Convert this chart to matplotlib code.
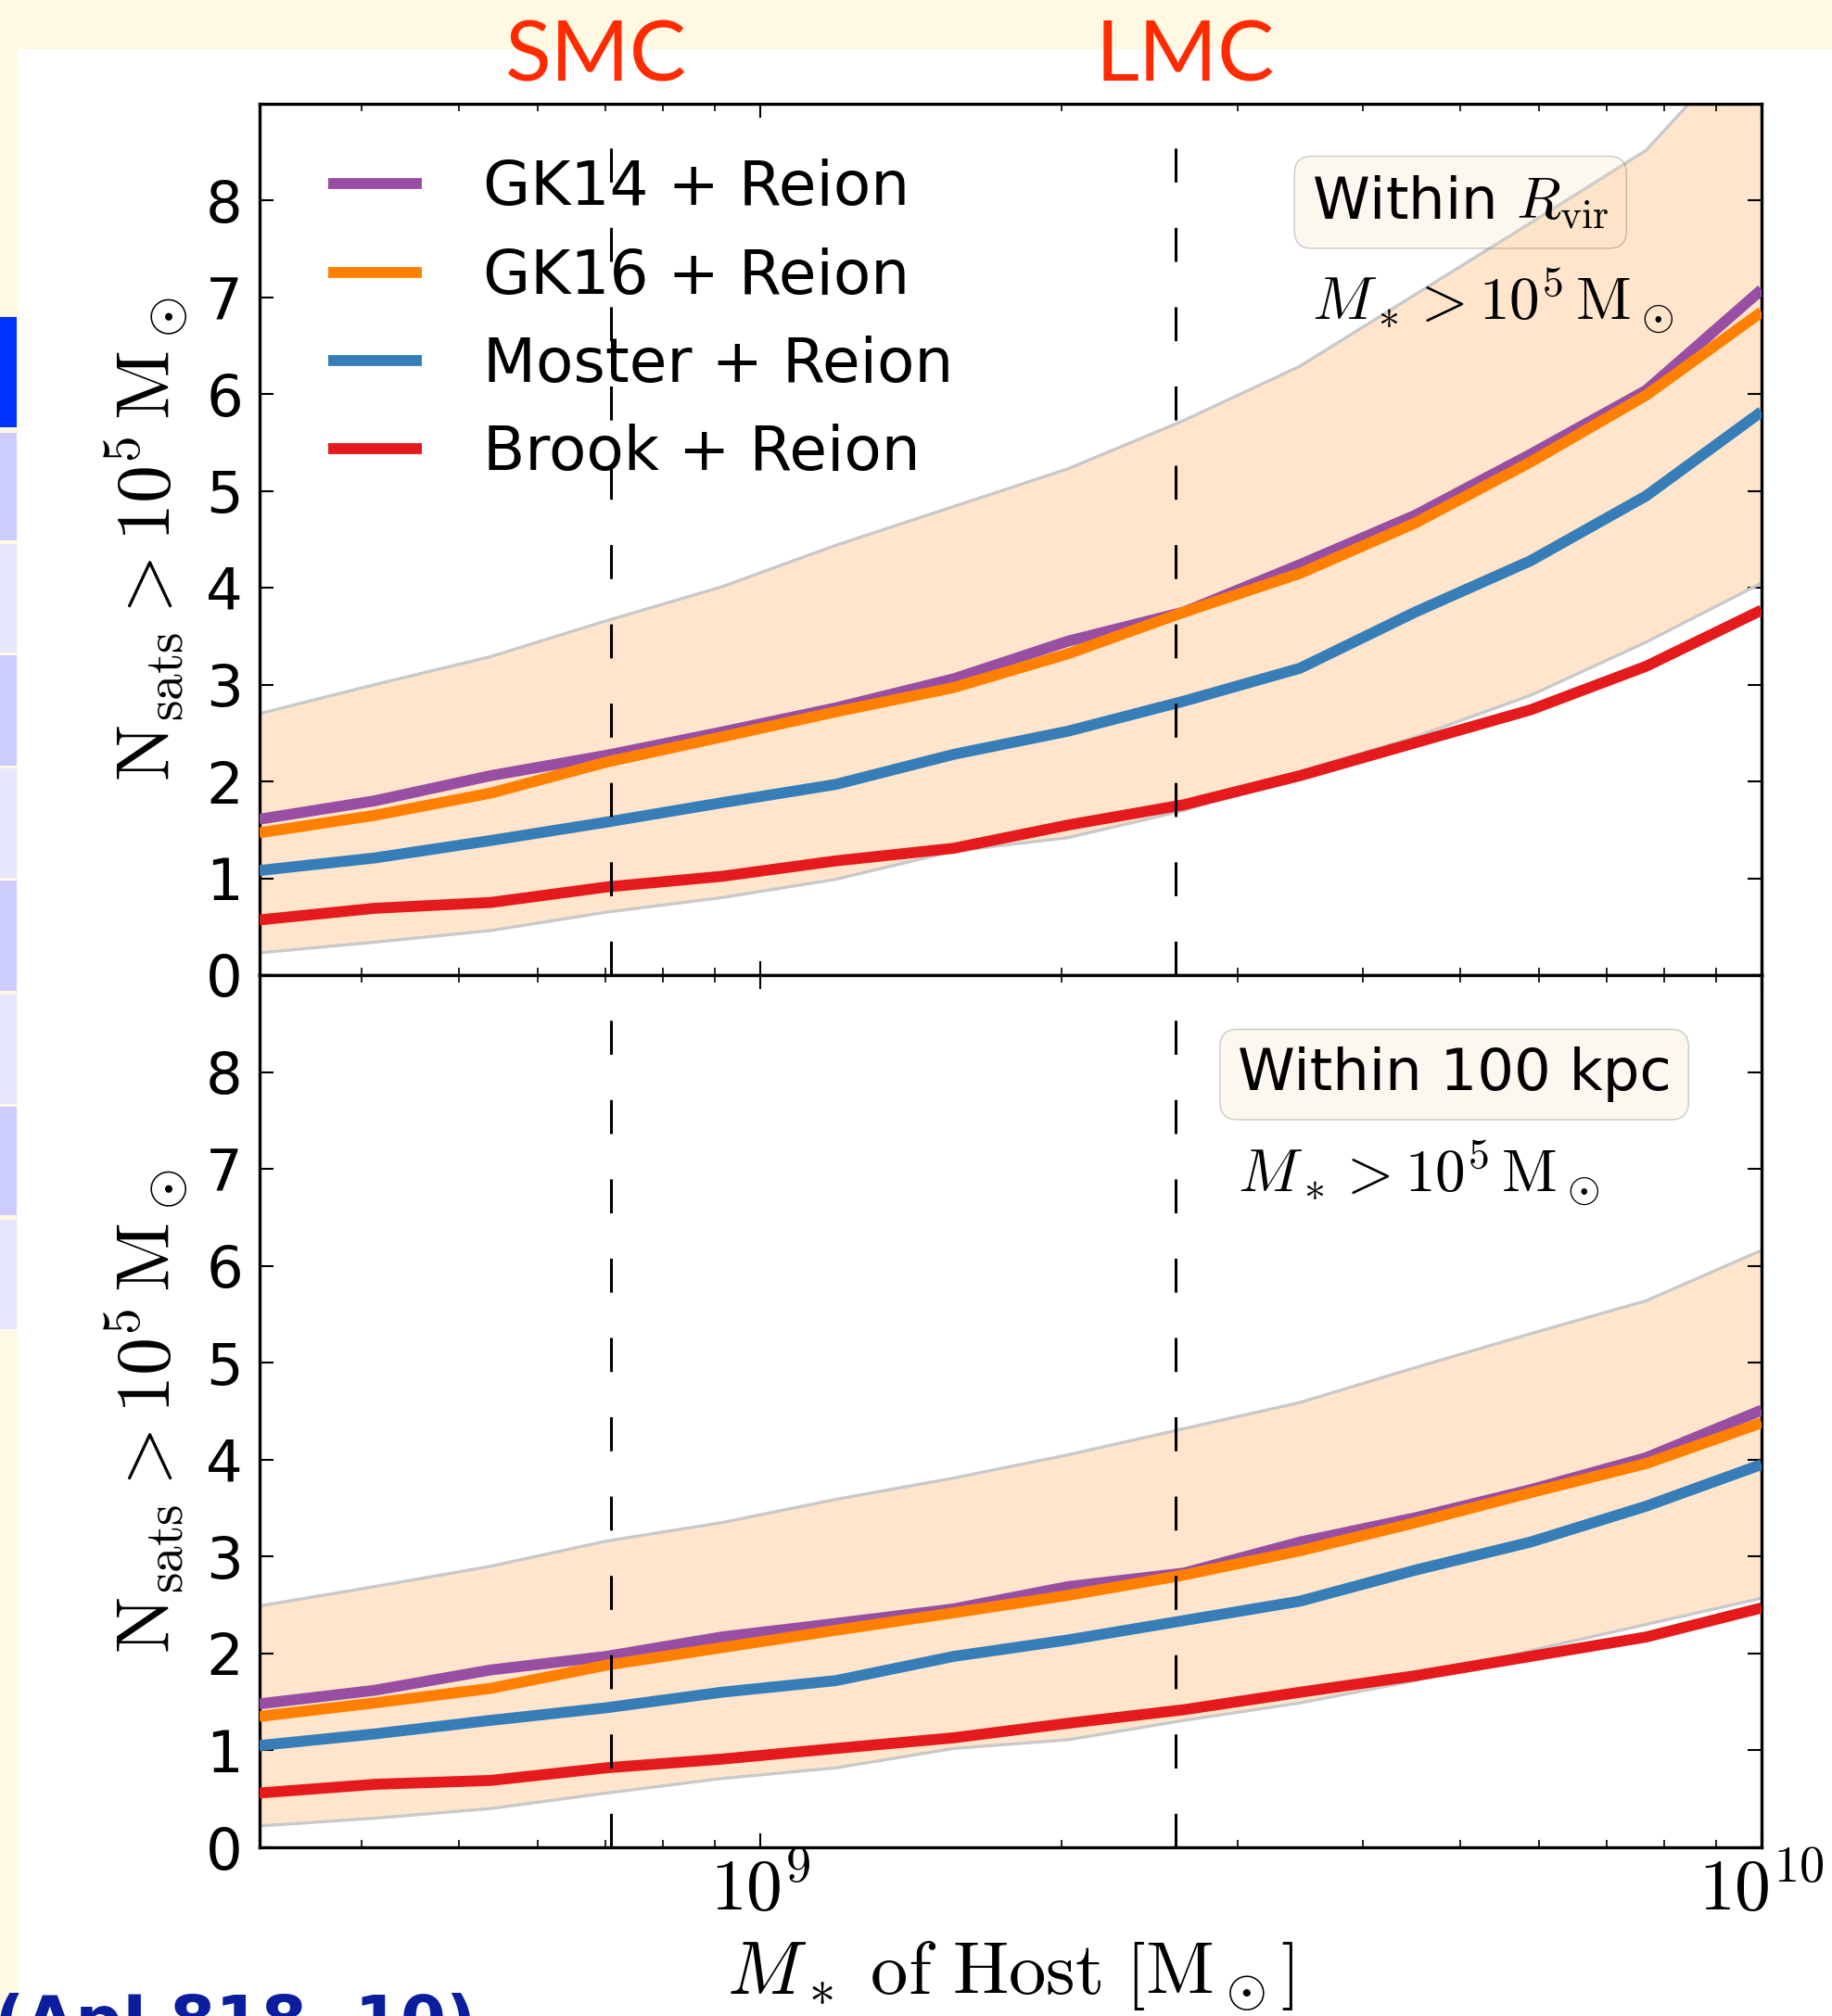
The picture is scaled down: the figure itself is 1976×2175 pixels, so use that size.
import matplotlib
matplotlib.use('Agg')
import matplotlib.pyplot as plt
from matplotlib.patches import Rectangle
from matplotlib.ticker import FuncFormatter, NullFormatter, LogLocator, FixedLocator
import numpy as np

# ---------------- data ----------------
host_mstar = [3.16e8, 4.12e8, 5.38e8, 7.02e8, 9.15e8, 1.19e9, 1.56e9,
              2.03e9, 2.65e9, 3.46e9, 4.51e9, 5.88e9, 7.67e9, 1.0e10]

# top panel: within R_vir
rvir_gk14 = [1.61, 1.80, 2.06, 2.27, 2.51, 2.76, 3.06, 3.45, 3.75, 4.24, 4.75, 5.38, 6.04, 7.08]
rvir_gk16 = [1.47, 1.65, 1.88, 2.20, 2.46, 2.72, 2.97, 3.32, 3.75, 4.15, 4.67, 5.30, 5.99, 6.85]
rvir_moster = [1.08, 1.21, 1.39, 1.58, 1.78, 1.97, 2.28, 2.52, 2.83, 3.17, 3.75, 4.28, 4.95, 5.82]
rvir_brook = [0.57, 0.69, 0.75, 0.91, 1.02, 1.18, 1.31, 1.55, 1.76, 2.06, 2.40, 2.74, 3.19, 3.77]
rvir_hi = [2.70, 3.00, 3.29, 3.66, 4.01, 4.44, 4.84, 5.23, 5.73, 6.29, 7.03, 7.77, 8.52, 9.82]
rvir_lo = [0.23, 0.34, 0.46, 0.65, 0.80, 0.99, 1.28, 1.42, 1.70, 2.10, 2.46, 2.89, 3.44, 4.05]

# bottom panel: within 100 kpc
k100_gk14 = [1.48, 1.62, 1.83, 1.97, 2.17, 2.31, 2.46, 2.69, 2.83, 3.15, 3.40, 3.69, 4.02, 4.51]
k100_gk16 = [1.35, 1.49, 1.64, 1.88, 2.06, 2.24, 2.42, 2.60, 2.81, 3.06, 3.35, 3.66, 3.96, 4.38]
k100_moster = [1.05, 1.17, 1.31, 1.44, 1.60, 1.72, 1.97, 2.14, 2.34, 2.54, 2.86, 3.15, 3.52, 3.95]
k100_brook = [0.56, 0.65, 0.69, 0.82, 0.91, 1.02, 1.13, 1.28, 1.42, 1.60, 1.77, 1.97, 2.17, 2.47]
k100_hi = [2.49, 2.69, 2.90, 3.16, 3.35, 3.59, 3.81, 4.05, 4.32, 4.59, 4.95, 5.30, 5.64, 6.16]
k100_lo = [0.22, 0.30, 0.40, 0.56, 0.71, 0.82, 1.02, 1.11, 1.31, 1.49, 1.72, 2.03, 2.30, 2.57]

series_labels = ['GK14 + Reion', 'GK16 + Reion', 'Moster + Reion', 'Brook + Reion']
series_colors = ['#984ea3', '#ff7f00', '#377eb8', '#e41a1c']
smc_mstar = 7.1e8
lmc_mstar = 2.6e9
y_ticks = [0, 1, 2, 3, 4, 5, 6, 7, 8]
x_major_ticks = [1e9, 1e10]

# ---------------- style ----------------
plt.rcParams.update({
    'font.family': ['DejaVu Sans'],
    'mathtext.fontset': 'cm',
    'xtick.direction': 'in', 'ytick.direction': 'in',
    'xtick.top': True, 'ytick.right': True,
    'xtick.major.size': 11, 'xtick.minor.size': 5.5,
    'ytick.major.size': 11, 'ytick.minor.size': 5.5,
    'xtick.major.width': 1.5, 'xtick.minor.width': 1.2,
    'ytick.major.width': 1.5, 'ytick.minor.width': 1.2,
    'axes.linewidth': 2.4,
    'xtick.labelsize': 56, 'ytick.labelsize': 45,
    'xtick.major.pad': 6, 'ytick.major.pad': 13,
})

W, H = 1976, 2175
fig = plt.figure(figsize=(W / 100, H / 100), dpi=100, facecolor='#FFF9E3')

# slide decoration: white canvas and left-side table strip
fig.patches.append(Rectangle((19 / W, 0), 1 - 19 / W, 1 - 53 / H, transform=fig.transFigure,
                             facecolor='white', edgecolor='none', zorder=-3))
strip = [(342, 461, '#0033FF'), (467, 583, '#CCCCFF'), (587, 704, '#E6E6FF'),
         (707, 826, '#CCCCFF'), (829, 947, '#E6E6FF'), (950, 1069, '#CCCCFF'),
         (1073, 1191, '#E6E6FF'), (1194, 1311, '#CCCCFF'), (1316, 1434, '#E6E6FF')]
for y0, y1, c in strip:
    fig.patches.append(Rectangle((0, 1 - y1 / H), 18 / W, (y1 - y0) / H, transform=fig.transFigure,
                                 facecolor=c, edgecolor='none', zorder=-2))

left, right = 280 / W, 1900 / W
ax1 = fig.add_axes([left, 1 - 1052 / H, right - left, 940 / H])
ax2 = fig.add_axes([left, 1 - 1993 / H, right - left, 941 / H])


def log_fmt(v, pos):
    return r'$10^{%d}$' % int(round(np.log10(v)))


def draw_panel(ax, curves, hi, lo):
    ax.fill_between(host_mstar, lo, hi, color='#ff7f00', alpha=0.2, lw=0, zorder=1)
    ax.plot(host_mstar, hi, color='#c9c9c9', lw=2.4, zorder=2)
    ax.plot(host_mstar, lo, color='#c9c9c9', lw=2.4, zorder=2)
    for vals, lab, col in zip(curves, series_labels, series_colors):
        ax.plot(host_mstar, vals, color=col, lw=8.5, label=lab, zorder=3, solid_capstyle='butt')
    for xv in (smc_mstar, lmc_mstar):
        ax.axvline(xv, color='k', lw=2.2, ls=(0, (12, 16)), zorder=4)
    ax.set_xscale('log')
    ax.set_xlim(10 ** 8.5, 1e10)
    ax.set_ylim(0, 9)
    ax.yaxis.set_major_locator(FixedLocator(y_ticks))
    ax.xaxis.set_major_locator(FixedLocator(x_major_ticks))
    ax.xaxis.set_minor_locator(LogLocator(base=10, subs=np.arange(2, 10), numticks=20))
    ax.xaxis.set_major_formatter(FuncFormatter(log_fmt))
    ax.xaxis.set_minor_formatter(NullFormatter())
    ax.set_ylabel(r'$\mathrm{N_{sats}} > 10^5\,\mathrm{M}_\odot$', fontsize=59)
    ax.yaxis.set_label_coords(-0.046, 0.5)


draw_panel(ax1, [rvir_gk14, rvir_gk16, rvir_moster, rvir_brook], rvir_hi, rvir_lo)
draw_panel(ax2, [k100_gk14, k100_gk16, k100_moster, k100_brook], k100_hi, k100_lo)
ax1.tick_params(axis='x', which='both', labelbottom=False)

ax1.legend(loc='upper left', bbox_to_anchor=(0.0457, 0.9368), frameon=False, fontsize=47.5,
           handlelength=1.53, handletextpad=1.0, labelspacing=0.475, borderpad=0, borderaxespad=0)

box = dict(boxstyle='round', facecolor='wheat', alpha=0.2)
ax1.text(0.7006, 0.868, r'Within $R_{\rm vir}$', transform=ax1.transAxes, fontsize=45,
         ha='left', va='baseline', bbox=box, zorder=6)
ax1.text(0.7006, 0.751, r'$M_* > 10^5\,\mathrm{M}_\odot$', transform=ax1.transAxes, fontsize=47,
         ha='left', va='baseline', zorder=6)
ax2.text(0.651, 0.868, 'Within 100 kpc', transform=ax2.transAxes, fontsize=45,
         ha='left', va='baseline', bbox=box, zorder=6)
ax2.text(0.651, 0.751, r'$M_* > 10^5\,\mathrm{M}_\odot$', transform=ax2.transAxes, fontsize=47,
         ha='left', va='baseline', zorder=6)

ax2.set_xlabel(r'$M_*\ \mathrm{of\ Host}\ \left[\mathrm{M}_\odot\right]$', fontsize=58)
ax2.xaxis.set_label_coords(0.5, -0.105)

fig.text(643 / W, 1 - 87 / H, 'SMC', color='#FF2A00', fontsize=66, family=['Lato', 'DejaVu Sans'],
         ha='center', va='baseline')
fig.text(1278 / W, 1 - 87 / H, 'LMC', color='#FF2A00', fontsize=66, family=['Lato', 'DejaVu Sans'],
         ha='center', va='baseline')

fig.text(-0.003, 1 - 2150 / H, '(ApJ 818, 10)', color='#0A1E9E', fontsize=51, fontweight='bold',
         ha='left', va='top')

fig.savefig('out.png', dpi=100, facecolor=fig.get_facecolor())
